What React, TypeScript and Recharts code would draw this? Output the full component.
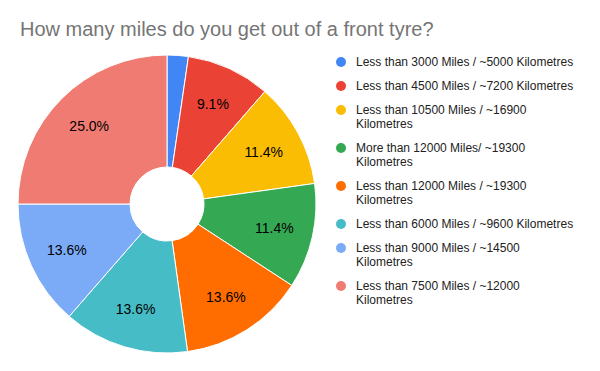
import { PieChart, Pie, Cell, Legend } from "recharts";

const TITLE = "How many miles do you get out of a front tyre?";

const CATEGORIES = [
  "Less than 3000 Miles / ~5000 Kilometres",
  "Less than 4500 Miles / ~7200 Kilometres",
  "Less than 10500 Miles / ~16900 Kilometres",
  "More than 12000 Miles/ ~19300 Kilometres",
  "Less than 12000 Miles / ~19300 Kilometres",
  "Less than 6000 Miles / ~9600 Kilometres",
  "Less than 9000 Miles / ~14500 Kilometres",
  "Less than 7500 Miles / ~12000 Kilometres",
];

const SHARES = [2.3, 9.1, 11.4, 11.4, 13.6, 13.6, 13.6, 25.0];

const COLORS = [
  "#4285f4",
  "#ea4335",
  "#fbbc04",
  "#34a853",
  "#ff6d01",
  "#46bdc6",
  "#7baaf7",
  "#f07b72",
];

const data = CATEGORIES.map((name, i) => ({ name, value: SHARES[i] }));

const FONT = "Arial, 'Liberation Sans', sans-serif";
const RADIAN = Math.PI / 180;

function renderLabel(props: any) {
  const { cx, cy, midAngle, percent } = props;
  if (percent < 0.05) return null;
  const r = 110;
  const x = cx + r * Math.cos(-midAngle * RADIAN);
  const y = cy + r * Math.sin(-midAngle * RADIAN);
  return (
    <text
      x={x}
      y={y}
      fill="#000"
      fontSize={14}
      fontFamily={FONT}
      textAnchor="middle"
      dominantBaseline="central"
    >
      {(percent * 100).toFixed(1) + "%"}
    </text>
  );
}

function LegendList() {
  return (
    <div style={{ fontFamily: FONT, fontSize: 12, color: "#222" }}>
      {CATEGORIES.map((name, i) => (
        <div
          key={name}
          style={{ display: "flex", alignItems: "flex-start", marginBottom: 10 }}
        >
          <span
            style={{
              width: 10,
              height: 10,
              borderRadius: 5,
              background: COLORS[i],
              marginTop: 2,
              marginRight: 10,
              flexShrink: 0,
            }}
          />
          <span style={{ width: 220, lineHeight: "14px" }}>{name}</span>
        </div>
      ))}
    </div>
  );
}

export default function App() {
  return (
    <div
      style={{
        position: "absolute",
        left: 0,
        top: 0,
        width: 600,
        height: 371,
        background: "#fff",
      }}
    >
      <div
        style={{
          position: "absolute",
          left: 20,
          top: 18,
          fontFamily: FONT,
          fontSize: 20,
          color: "#757575",
          whiteSpace: "nowrap",
        }}
      >
        {TITLE}
      </div>
      <PieChart
        width={600}
        height={371}
        margin={{ top: 0, right: 0, bottom: 0, left: 0 }}
      >
        <Pie
          data={data}
          dataKey="value"
          nameKey="name"
          cx={167}
          cy={204}
          innerRadius={37}
          outerRadius={149}
          startAngle={90}
          endAngle={-270}
          stroke="#fff"
          strokeWidth={1}
          label={renderLabel}
          labelLine={false}
          isAnimationActive={false}
        >
          {data.map((_, i) => (
            <Cell key={i} fill={COLORS[i]} />
          ))}
        </Pie>
        <Legend
          layout="vertical"
          align="right"
          verticalAlign="top"
          content={() => <LegendList />}
          wrapperStyle={{ left: 336, top: 55, width: 260, right: "auto" }}
        />
      </PieChart>
    </div>
  );
}
